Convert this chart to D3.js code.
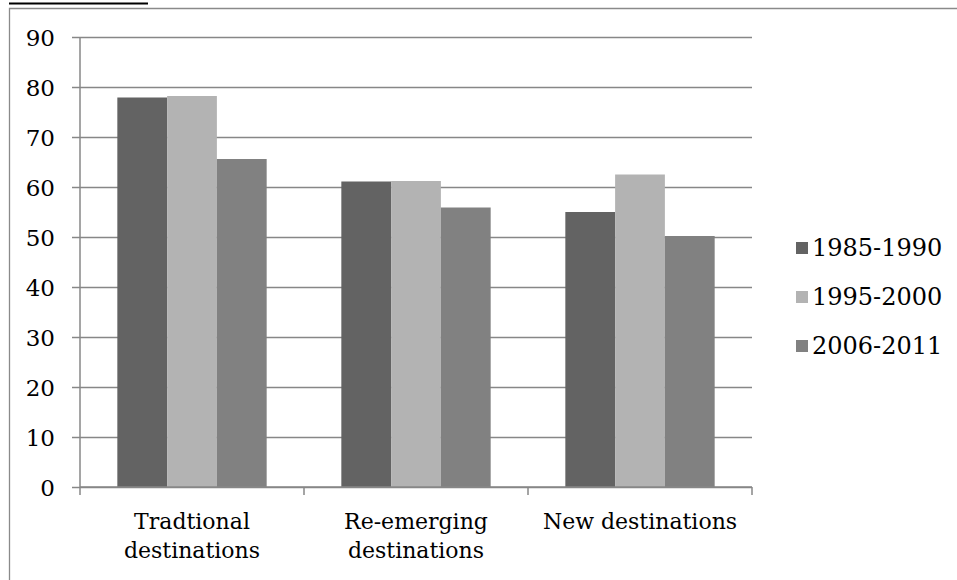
<!DOCTYPE html>
<html>
<head>
<meta charset="utf-8">
<script src="https://cdn.jsdelivr.net/npm/d3@7"></script>
<style>
html,body{margin:0;padding:0;background:#fff;}
svg{display:block;}
text{font-family:"DejaVu Serif",serif;fill:#000;}
</style>
</head>
<body>
<svg id="chart" width="957" height="580"></svg>
<script>
const categories = [["Tradtional","destinations"],["Re-emerging","destinations"],["New destinations"]];
const seriesNames = ["1985-1990","1995-2000","2006-2011"];
const values1985 = [77.9, 61.1, 55.0];
const values1995 = [78.2, 61.2, 62.5];
const values2006 = [65.6, 55.9, 50.2];
const yTicks = [0,10,20,30,40,50,60,70,80,90];
const colors = ["#636363","#b3b3b3","#818181"];

(function(){
const series = [values1985, values1995, values2006];
const svg = d3.select("#chart");

// outer frame
svg.append("line").attr("x1",9).attr("x2",148).attr("y1",3.5).attr("y2",3.5).attr("stroke","#000").attr("stroke-width",2);
svg.append("path").attr("d","M9.5,585 V8.5 H960").attr("fill","none").attr("stroke","#8a8a8a").attr("stroke-width",1.3);

const pL = 80, pR = 752, pT = 37, pB = 487;
const x0 = d3.scaleBand().domain(d3.range(categories.length)).range([pL,pR]).paddingInner(0).paddingOuter(0);
const barW = x0.bandwidth()/4.5;
const x1 = d3.scaleBand().domain(d3.range(series.length)).range([0, barW*3]);
const y = d3.scaleLinear().domain([0,90]).range([pB, pT]);

// gridlines + y ticks
const yAxis = d3.axisLeft(y).tickValues(yTicks).tickSize(8).tickSizeOuter(0).tickPadding(17);
const gy = svg.append("g").attr("transform",`translate(${pL},0)`).call(yAxis);
gy.select(".domain").remove();
gy.selectAll(".tick line").attr("stroke","#878787").attr("stroke-width",1.5).attr("x2",-8).attr("x1",pR-pL);
gy.selectAll(".tick text").attr("font-size",23).attr("font-family","DejaVu Serif").attr("fill","#000").attr("dy","0.35em");

// bars
const groups = svg.append("g").selectAll("g").data(categories).join("g")
  .attr("transform",(d,i)=>`translate(${x0(i)+ (x0.bandwidth()-barW*3)/2},0)`);
groups.selectAll("rect").data((d,i)=>series.map((s,j)=>({j, v:s[i]}))).join("rect")
  .attr("x",d=>x1(d.j)).attr("width",x1.bandwidth())
  .attr("y",d=>y(d.v)).attr("height",d=>y(0)-y(d.v))
  .attr("fill",(d)=>colors[d.j]);

// axes lines
svg.append("line").attr("x1",pL).attr("x2",pL).attr("y1",pT).attr("y2",pB).attr("stroke","#878787").attr("stroke-width",1.5);
const gx = svg.append("g").attr("transform",`translate(0,${pB})`);
gx.append("line").attr("x1",pL).attr("x2",pR).attr("stroke","#878787").attr("stroke-width",1.5);
const tickPos = d3.range(categories.length+1).map(i=> i<categories.length ? x0(i) : x0(i-1)+x0.bandwidth());
gx.selectAll(".ct").data(tickPos).join("line").attr("class","ct")
  .attr("x1",d=>d).attr("x2",d=>d).attr("y1",0).attr("y2",8).attr("stroke","#878787").attr("stroke-width",1.5);

// category labels
categories.forEach((lines,i)=>{
  const cx = x0(i)+x0.bandwidth()/2;
  lines.forEach((t,k)=>{
    svg.append("text").attr("x",cx).attr("y",529+k*29).attr("text-anchor","middle").attr("font-size",22).text(t);
  });
});

// legend
const lg = svg.append("g");
seriesNames.forEach((n,i)=>{
  const yy = 256 + i*49;
  lg.append("rect").attr("x",796).attr("y",yy-14).attr("width",12).attr("height",12).attr("fill",colors[i]);
  lg.append("text").attr("x",812).attr("y",yy).attr("font-size",24).text(n);
});
})();
</script>
</body>
</html>
